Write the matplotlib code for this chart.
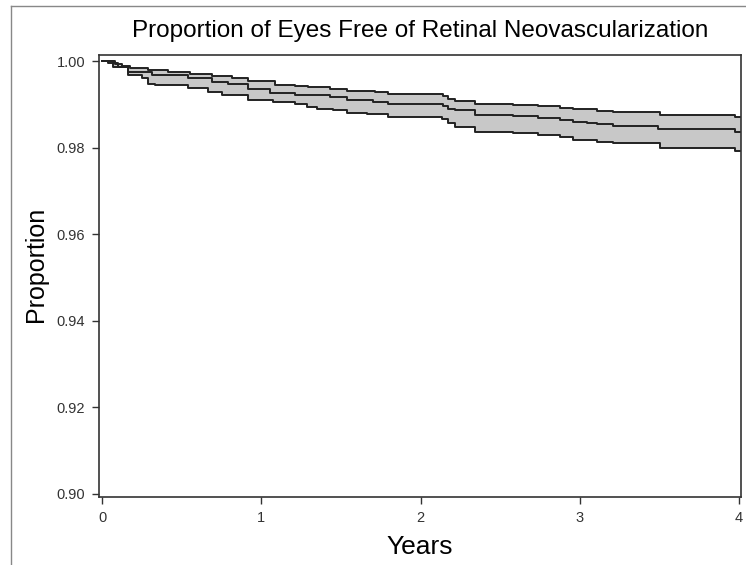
import numpy as np
import matplotlib
matplotlib.use("Agg")
import matplotlib.pyplot as plt
from matplotlib.lines import Line2D

plt.rcParams['font.family'] = ['Liberation Sans', 'DejaVu Sans']

# step curves (years, proportion)
mid_t = [0, 0.038, 0.100, 0.163, 0.314, 0.540, 0.691, 0.791, 0.917, 1.055, 1.212, 1.431, 1.538,
         1.701, 1.795, 2.141, 2.172, 2.216, 2.341, 2.580, 2.737, 2.875, 2.957, 3.044, 3.107,
         3.208, 3.490, 3.974]
mid_v = [1.0, 0.9995, 0.9987, 0.9975, 0.9968, 0.9960, 0.9952, 0.9946, 0.9935, 0.9927, 0.9921,
         0.9916, 0.9910, 0.9905, 0.9901, 0.9896, 0.9890, 0.9887, 0.9876, 0.9873, 0.9868, 0.9864,
         0.9860, 0.9856, 0.9854, 0.9851, 0.9842, 0.9835]

upper_t = [0, 0.082, 0.126, 0.176, 0.289, 0.414, 0.552, 0.691, 0.816, 0.917, 1.086, 1.212, 1.293,
           1.431, 1.538, 1.714, 1.795, 2.141, 2.172, 2.216, 2.341, 2.580, 2.737, 2.875, 2.957,
           3.107, 3.208, 3.503, 3.974]
upper_v = [1.0, 0.9993, 0.9988, 0.9983, 0.9979, 0.9975, 0.9971, 0.9966, 0.9960, 0.9954, 0.9945,
           0.9942, 0.9939, 0.9935, 0.9931, 0.9928, 0.9924, 0.9919, 0.9912, 0.9908, 0.9901, 0.9898,
           0.9895, 0.9892, 0.9889, 0.9885, 0.9882, 0.9875, 0.9870]

lower_t = [0, 0.069, 0.163, 0.251, 0.289, 0.333, 0.540, 0.665, 0.753, 0.917, 1.073, 1.212, 1.287,
           1.350, 1.450, 1.538, 1.664, 1.795, 2.134, 2.172, 2.216, 2.341, 2.580, 2.737, 2.875,
           2.957, 3.107, 3.208, 3.503, 3.974]
lower_v = [1.0, 0.9987, 0.9968, 0.9960, 0.9948, 0.9945, 0.9937, 0.9929, 0.9921, 0.9911, 0.9905,
           0.9900, 0.9894, 0.9890, 0.9887, 0.9881, 0.9877, 0.9871, 0.9865, 0.9857, 0.9848, 0.9837,
           0.9833, 0.9829, 0.9824, 0.9818, 0.9814, 0.9810, 0.9798, 0.9792]

t_end = 4.01
yticks = [0.90, 0.92, 0.94, 0.96, 0.98, 1.00]
xticks = [0, 1, 2, 3, 4]


def step_at(t_grid, times, vals):
    idx = np.searchsorted(times, t_grid, side='right') - 1
    return np.asarray(vals)[idx]


fig = plt.figure(figsize=(7.46, 5.65), dpi=100)
ax = fig.add_axes([0.1327, 0.1204, 0.8606, 0.7823])

grid = np.unique(np.concatenate([upper_t, lower_t, [t_end]]))
ax.fill_between(grid, step_at(grid, upper_t, upper_v), step_at(grid, lower_t, lower_v),
                step='post', color='#c8c8c8', linewidth=0)

for tt, vv in [(upper_t, upper_v), (mid_t, mid_v), (lower_t, lower_v)]:
    ax.step(list(tt) + [t_end], list(vv) + [vv[-1]], where='post', color='#222222', lw=1.4)

ax.set_xlim(-0.02, 4.013)
ax.set_ylim(0.8993, 1.0014)
ax.set_xticks(xticks)
ax.set_yticks(yticks)
ax.set_yticklabels([f'{v:.2f}' for v in yticks])
ax.tick_params(direction='out', length=5, width=1, labelsize=10.5, colors='#333333', pad=5)
for s in ax.spines.values():
    s.set_color('#333333')
    s.set_linewidth(1.2)

ax.set_xlabel('Years', fontsize=19, labelpad=7)
ax.set_ylabel('Proportion', fontsize=18)
ax.yaxis.set_label_coords(-0.080, 0.527)
ax.set_title('Proportion of Eyes Free of Retinal Neovascularization', fontsize=17.5, pad=13)

# outer border (left and top)
fig.add_artist(Line2D([11 / 746, 11 / 746], [0, 1 - 6 / 565], color='#888888', lw=1))
fig.add_artist(Line2D([11 / 746, 1], [1 - 6 / 565, 1 - 6 / 565], color='#888888', lw=1))

fig.savefig('out.png', dpi=100)
